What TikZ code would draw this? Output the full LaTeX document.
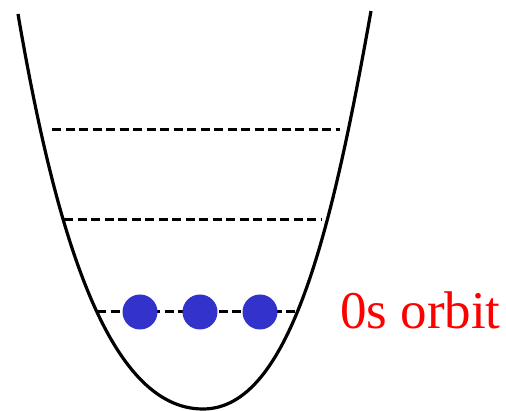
\documentclass[tikz,border=0pt]{standalone}
\usepackage{fontspec}
\setmainfont{Liberation Serif}
\definecolor{dotblue}{RGB}{51,51,204}
\begin{document}
\begin{tikzpicture}[x=1pt,y=-1pt,
  well/.style={line width=3.2pt},
  level/.style={line width=3pt,dash pattern=on 9pt off 4.5pt},
  electron/.style={circle,fill=dotblue,minimum size=35pt,inner sep=0pt}]
\useasboundingbox (0,0) rectangle (506,411);
\coordinate (wl) at (18,14);
\coordinate (wb) at (203,409);
\coordinate (wr) at (371,11);
\draw[well] (wl) .. controls (55,230) and (107,409) .. (wb)
                 .. controls (290,409) and (332,230) .. (wr);
\coordinate (l1a) at (52,130); \coordinate (l1b) at (340,130);
\coordinate (l2a) at (64,220); \coordinate (l2b) at (322,220);
\coordinate (l3a) at (97,312); \coordinate (l3b) at (295,312);
\draw[level] (l1a) -- (l1b);
\draw[level] (l2a) -- (l2b);
\draw[level] (l3a) -- (l3b);
\node[electron] (e1) at (140,312) {};
\node[electron] (e2) at (200,312) {};
\node[electron] (e3) at (260,312) {};
\node[anchor=base west,inner sep=0pt,text=red,font=\fontsize{53}{60}\selectfont] (lab) at (340,329) {0s orbit};
\end{tikzpicture}
\end{document}
